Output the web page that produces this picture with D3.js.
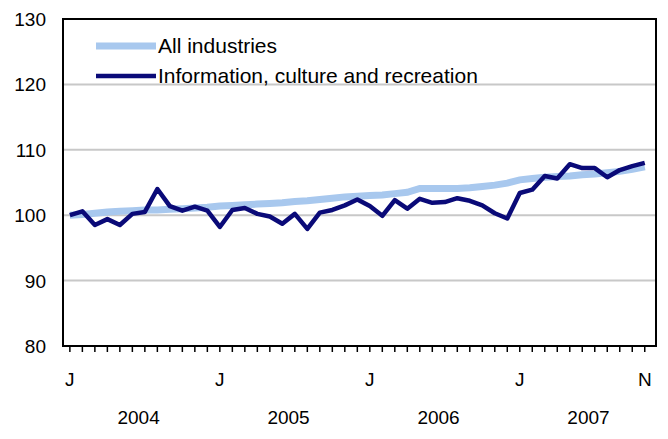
<!DOCTYPE html>
<html><head><meta charset="utf-8">
<script src="https://cdn.jsdelivr.net/npm/d3@7"></script>
<style>body{margin:0;background:#fff}text{font-family:Arial,"Liberation Sans",sans-serif}</style>
</head><body><div id="plot"></div>
<script>
const allIndustries = [100.0,100.1,100.3,100.5,100.6,100.7,100.8,100.8,100.9,101.0,101.1,101.2,101.4,101.5,101.6,101.7,101.8,101.9,102.1,102.2,102.4,102.6,102.8,102.9,103.0,103.1,103.3,103.5,104.1,104.1,104.1,104.1,104.2,104.4,104.6,104.9,105.4,105.6,105.8,105.9,106.0,106.2,106.3,106.5,106.7,107.0,107.4];
const infoCulture = [100.0,100.6,98.5,99.4,98.5,100.2,100.5,104.0,101.4,100.7,101.3,100.7,98.2,100.8,101.1,100.2,99.8,98.7,100.2,97.9,100.4,100.8,101.5,102.4,101.4,99.9,102.3,101.0,102.5,101.9,102.0,102.6,102.2,101.5,100.3,99.5,103.4,103.9,106.0,105.6,107.8,107.2,107.2,105.8,106.9,107.5,108.0];
const yTicks = [80,90,100,110,120,130];
const years = ["2004","2005","2006","2007"];
const monthLabels = [[0,"J"],[12,"J"],[24,"J"],[36,"J"],[46,"N"]];

const width = 668, height = 439;
const margin = {top: 19, right: 12, bottom: 93, left: 63};
const svg = d3.select("#plot").append("svg").attr("width", width).attr("height", height);

const x = d3.scaleLinear().domain([-0.55, 46.9]).range([margin.left, width - margin.right]);
const y = d3.scaleLinear().domain([80, 130]).range([height - margin.bottom, margin.top]);

// gridlines
svg.selectAll("line.grid").data(yTicks.slice(1, -1)).join("line")
  .attr("x1", margin.left).attr("x2", width - margin.right)
  .attr("y1", d => y(d)).attr("y2", d => y(d))
  .attr("stroke", "#c8c8c8").attr("stroke-width", 2);

// frame
svg.append("rect").attr("x", margin.left).attr("y", margin.top)
  .attr("width", width - margin.right - margin.left).attr("height", y(80) - margin.top)
  .attr("fill", "none").attr("stroke", "#000").attr("stroke-width", 2);

svg.selectAll("text.ylab").data(yTicks).join("text")
  .attr("x", 46).attr("y", d => y(d) + 7).attr("text-anchor", "end")
  .style("font-size", "19px").text(d => d);

// month ticks
svg.selectAll("line.tick").data(d3.range(47)).join("line")
  .attr("x1", d => x(d)).attr("x2", d => x(d))
  .attr("y1", y(80)).attr("y2", y(80) + 6).attr("stroke", "#000").attr("stroke-width", 1.5);

svg.selectAll("text.mon").data(monthLabels).join("text")
  .attr("x", d => x(d[0])).attr("y", 386).attr("text-anchor", "middle")
  .style("font-size", "19px").text(d => d[1]);

svg.selectAll("text.yr").data(years).join("text")
  .attr("x", (d, i) => x(i * 12 + 5.5)).attr("y", 424).attr("text-anchor", "middle")
  .style("font-size", "19px").text(d => d);

const line = d3.line().x((d, i) => x(i)).y(d => y(d));
svg.append("path").datum(allIndustries).attr("d", line)
  .attr("fill", "none").attr("stroke", "#a8c8ee").attr("stroke-width", 7);
svg.append("path").datum(infoCulture).attr("d", line)
  .attr("fill", "none").attr("stroke", "#0a0a78").attr("stroke-width", 4.5).attr("stroke-linejoin", "round");

// legend
const legend = [["All industries", "#a8c8ee", 7], ["Information, culture and recreation", "#0a0a78", 4.5]];
legend.forEach((l, i) => {
  const ly = 46 + i * 30;
  svg.append("line").attr("x1", 96).attr("x2", 156).attr("y1", ly).attr("y2", ly)
    .attr("stroke", l[1]).attr("stroke-width", l[2]);
  svg.append("text").attr("x", 158).attr("y", ly + 7).style("font-size", "21px").text(l[0]);
});
</script></body></html>
